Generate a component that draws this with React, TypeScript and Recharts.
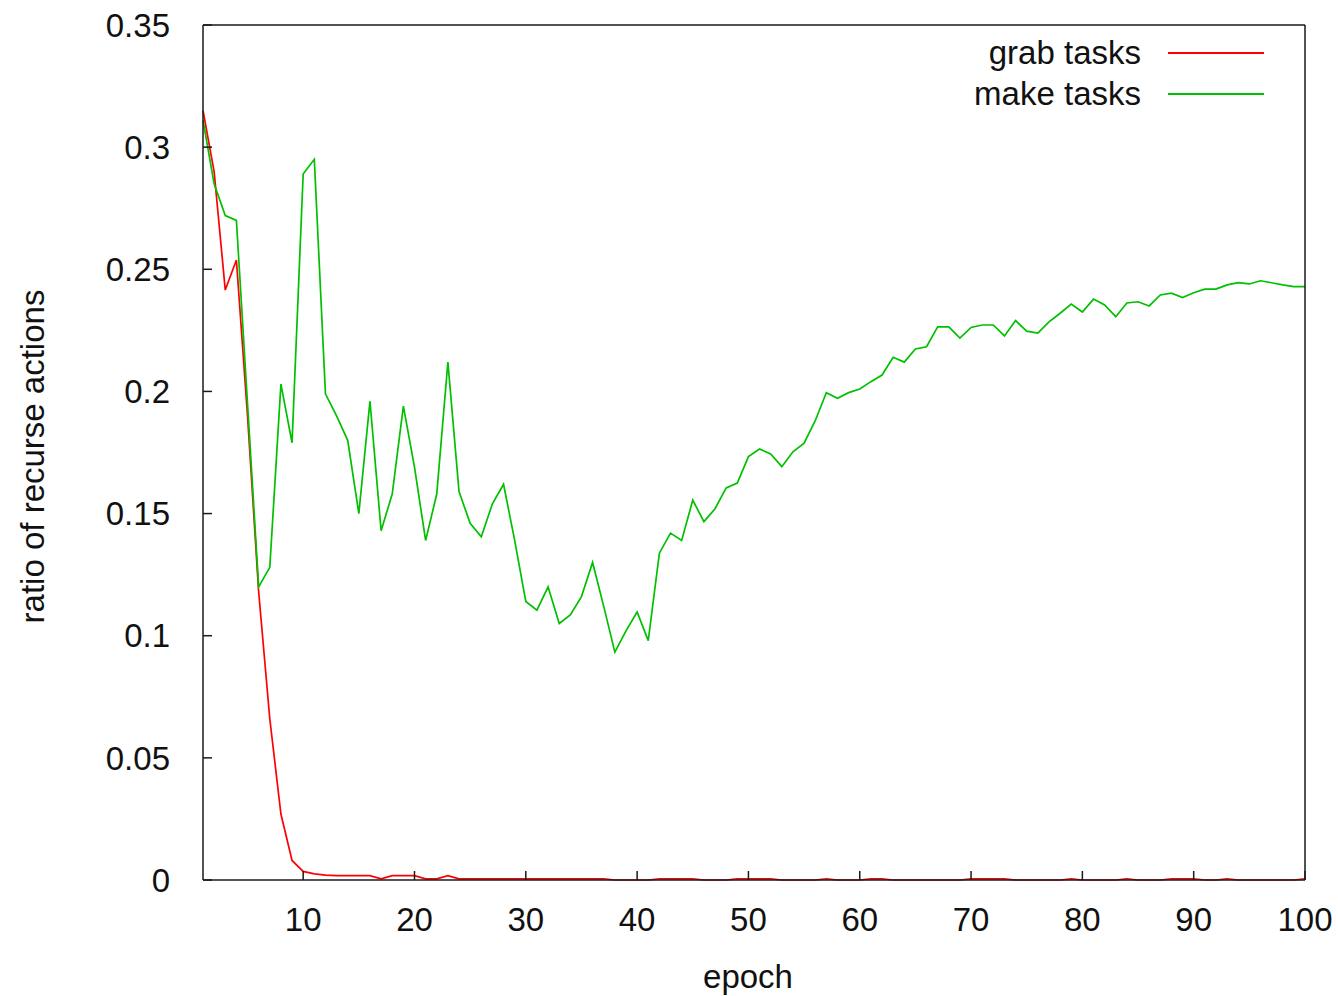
import React from "react";
import {
  LineChart,
  Line,
  XAxis,
  YAxis,
  Legend,
} from "recharts";

const epochs = [
  1, 2, 3, 4, 5, 6, 7, 8, 9, 10, 11, 12, 13, 14, 15, 16, 17, 18, 19, 20,
  21, 22, 23, 24, 25, 26, 27, 28, 29, 30, 31, 32, 33, 34, 35, 36, 37, 38, 39, 40,
  41, 42, 43, 44, 45, 46, 47, 48, 49, 50, 51, 52, 53, 54, 55, 56, 57, 58, 59, 60,
  61, 62, 63, 64, 65, 66, 67, 68, 69, 70, 71, 72, 73, 74, 75, 76, 77, 78, 79, 80,
  81, 82, 83, 84, 85, 86, 87, 88, 89, 90, 91, 92, 93, 94, 95, 96, 97, 98, 99, 100,
];

const grabTasks = [
  0.315, 0.29, 0.2415, 0.2538, 0.19, 0.118, 0.066, 0.027, 0.008, 0.0035,
  0.0025, 0.002, 0.0018, 0.0018, 0.0018, 0.0018, 0.0005, 0.0018, 0.0018, 0.0018,
  0.0005, 0.0005, 0.0018, 0.0005, 0.0005, 0.0005, 0.0005, 0.0005, 0.0005, 0.0005,
  0.0005, 0.0005, 0.0005, 0.0005, 0.0005, 0.0005, 0.0005, 0, 0, 0,
  0, 0.0005, 0.0005, 0.0005, 0.0005, 0, 0, 0, 0.0005, 0.0005,
  0.0005, 0.0005, 0, 0, 0, 0, 0.0005, 0, 0, 0,
  0.0005, 0.0005, 0, 0, 0, 0, 0, 0, 0, 0.0005,
  0.0005, 0.0005, 0.0005, 0, 0, 0, 0, 0, 0.0005, 0,
  0, 0, 0, 0.0005, 0, 0, 0, 0.0005, 0.0005, 0.0005,
  0, 0, 0.0005, 0, 0, 0, 0, 0, 0, 0.0005,
];

const makeTasks = [
  0.311, 0.285, 0.272, 0.27, 0.195, 0.12, 0.128, 0.203, 0.179, 0.289,
  0.295, 0.199, 0.19, 0.18, 0.15, 0.196, 0.143, 0.158, 0.194, 0.169,
  0.139, 0.158, 0.212, 0.159, 0.146, 0.1405, 0.154, 0.162, 0.139, 0.114,
  0.1105, 0.12, 0.105, 0.1085, 0.116, 0.13, 0.112, 0.0933, 0.102, 0.1097,
  0.098, 0.1338, 0.142, 0.139, 0.1555, 0.1467, 0.152, 0.1605, 0.1625, 0.1733,
  0.1764, 0.1744, 0.1692, 0.1753, 0.1788, 0.188, 0.1995, 0.1972, 0.1995, 0.201,
  0.204, 0.2067, 0.214, 0.212, 0.2174, 0.2183, 0.2264, 0.2264, 0.2218, 0.2262,
  0.2272, 0.2272, 0.2227, 0.229, 0.2247, 0.2239, 0.2285, 0.232, 0.2358, 0.2325,
  0.2378, 0.2354, 0.2306, 0.2362, 0.2367, 0.235, 0.2395, 0.2402, 0.2384, 0.2404,
  0.2419, 0.2419, 0.2436, 0.2445, 0.244, 0.2453, 0.2445, 0.2436, 0.2429, 0.2429,
];

const xTicks = [10, 20, 30, 40, 50, 60, 70, 80, 90, 100];
const yTicks = [0, 0.05, 0.1, 0.15, 0.2, 0.25, 0.3, 0.35];

const FONT = '"Liberation Sans", Arial, sans-serif';
const FONT_SIZE = 33;
const AXIS_STROKE = "#1a1a1a";
const TICK_STYLE = { fill: "#111", fontSize: FONT_SIZE, fontFamily: FONT };

const data = epochs.map((epoch, i) => ({
  epoch,
  grab: grabTasks[i],
  make: makeTasks[i],
}));

// gnuplot style key: text right-aligned, sample line on the right
const renderLegend = (props: any) => (
  <div style={{ fontFamily: FONT, fontSize: FONT_SIZE, color: "#111" }}>
    {(props.payload || []).map((entry: any) => (
      <div
        key={entry.value}
        style={{
          display: "flex",
          alignItems: "center",
          justifyContent: "flex-end",
          height: 41,
          lineHeight: "41px",
        }}
      >
        <span>{entry.value}</span>
        <div
          style={{
            width: 96,
            height: 2,
            marginLeft: 27,
            background: entry.color,
          }}
        />
      </div>
    ))}
  </div>
);

export default function App() {
  return (
    <div style={{ position: "absolute", left: 0, top: 0, background: "#fff" }}>
      <LineChart
        width={1338}
        height={996}
        data={data}
        margin={{ top: 24, right: 32, left: 0, bottom: 0 }}
      >
        <Line
          type="linear"
          dataKey="grab"
          name="grab tasks"
          stroke="#ff0000"
          strokeWidth={1.7}
          dot={false}
          isAnimationActive={false}
        />
        <Line
          type="linear"
          dataKey="make"
          name="make tasks"
          stroke="#00c000"
          strokeWidth={1.7}
          dot={false}
          isAnimationActive={false}
        />
        <XAxis
          dataKey="epoch"
          type="number"
          domain={[1, 100]}
          ticks={xTicks}
          height={116}
          tickSize={-9}
          tickMargin={37}
          tick={TICK_STYLE}
          stroke={AXIS_STROKE}
          strokeWidth={1.5}
          label={{
            content: (p: any) => {
              const vb = p.viewBox;
              return (
                <text
                  x={vb.x + vb.width / 2 - 6}
                  y={vb.y + 108}
                  textAnchor="middle"
                  fontFamily={FONT}
                  fontSize={FONT_SIZE}
                  fill="#111"
                >
                  epoch
                </text>
              );
            },
          }}
        />
        <XAxis
          xAxisId="top"
          orientation="top"
          dataKey="epoch"
          type="number"
          domain={[1, 100]}
          ticks={xTicks}
          height={1}
          tickSize={-9}
          tick={false}
          stroke={AXIS_STROKE}
          strokeWidth={1.5}
        />
        <YAxis
          type="number"
          domain={[0, 0.35]}
          ticks={yTicks}
          width={203}
          tickSize={-9}
          tickMargin={42}
          tick={TICK_STYLE}
          tickFormatter={(v: number) => String(v)}
          stroke={AXIS_STROKE}
          strokeWidth={1.5}
          label={{
            content: (p: any) => {
              const vb = p.viewBox;
              const cx = vb.x + 32;
              const cy = vb.y + vb.height / 2 + 4;
              return (
                <text
                  x={cx}
                  y={cy}
                  textAnchor="middle"
                  dominantBaseline="central"
                  transform={`rotate(-90, ${cx}, ${cy})`}
                  fontFamily={FONT}
                  fontSize={FONT_SIZE}
                  fill="#111"
                >
                  ratio of recurse actions
                </text>
              );
            },
          }}
        />
        <YAxis
          yAxisId="right"
          orientation="right"
          type="number"
          domain={[0, 0.35]}
          ticks={yTicks}
          width={1}
          tickSize={-9}
          tick={false}
          stroke={AXIS_STROKE}
          strokeWidth={1.5}
        />
        <Legend
          layout="vertical"
          align="center"
          verticalAlign="middle"
          content={renderLegend}
          wrapperStyle={{ top: 32, left: 864, width: 400, height: 82 }}
        />
      </LineChart>
    </div>
  );
}
